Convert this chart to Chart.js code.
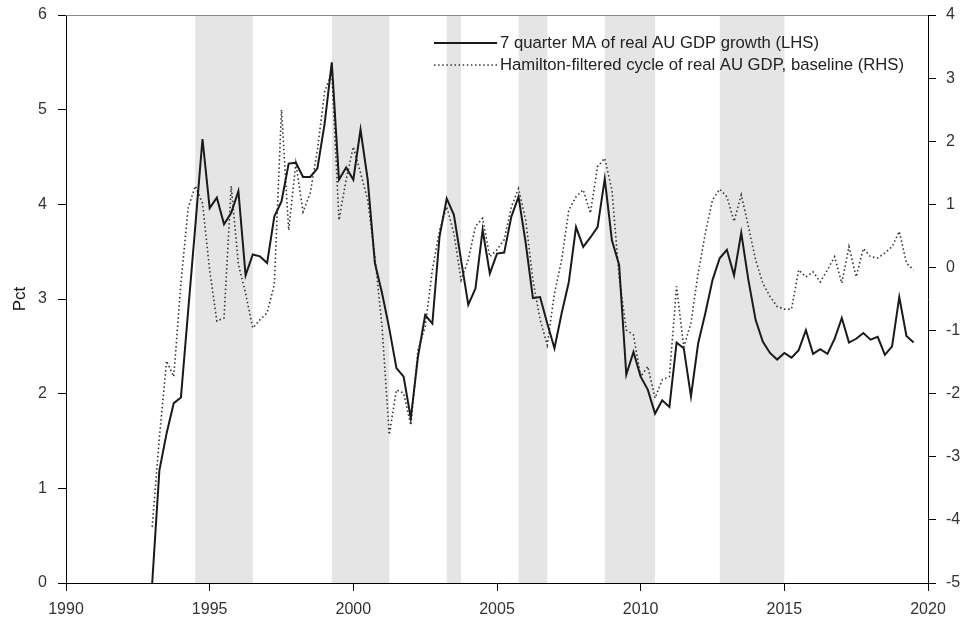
<!DOCTYPE html>
<html>
<head>
<meta charset="utf-8">
<script src="https://cdn.jsdelivr.net/npm/chart.js@4.4.1/dist/chart.umd.min.js"></script>
<style>
	html, body { margin: 0; padding: 0; background: #fff; }
	#wrap { width: 963px; height: 623px; }
</style>
</head>
<body>
<div id="wrap"><canvas id="gdpChart" width="963" height="623"></canvas></div>
<script>
// Quarterly series, first observation 1993 Q1
const startYear = 1993;

// 7 quarter moving average of real GDP growth, per cent (left axis)
const maGrowth = [
	0, 1.19, 1.58, 1.90, 1.96, 2.87, 3.77, 4.69,
	3.96, 4.07, 3.79, 3.91, 4.14, 3.25, 3.47, 3.45,
	3.38, 3.87, 4.03, 4.43, 4.44, 4.29, 4.29, 4.38,
	4.85, 5.50, 4.26, 4.39, 4.26, 4.79, 4.26, 3.38,
	3.06, 2.69, 2.27, 2.18, 1.74, 2.39, 2.83, 2.74,
	3.66, 4.06, 3.89, 3.41, 2.94, 3.11, 3.73, 3.27,
	3.48, 3.49, 3.87, 4.08, 3.59, 3.01, 3.02, 2.74,
	2.48, 2.85, 3.18, 3.76, 3.55, 3.65, 3.76, 4.27,
	3.62, 3.36, 2.20, 2.44, 2.18, 2.04, 1.79, 1.93,
	1.86, 2.54, 2.48, 1.97, 2.53, 2.85, 3.20, 3.43,
	3.52, 3.25, 3.70, 3.20, 2.78, 2.55, 2.43, 2.36,
	2.43, 2.38, 2.46, 2.67, 2.42, 2.47, 2.42, 2.58,
	2.80, 2.54, 2.58, 2.64, 2.57, 2.60, 2.41, 2.50,
	3.02, 2.61, 2.54
];

// Hamilton-filtered cycle of real GDP, baseline (right axis)
const hamiltonCycle = [
	-4.11, -2.70, -1.48, -1.73, -0.25, 0.94, 1.29, 1.02,
	-0.04, -0.85, -0.80, 1.29, 0.05, -0.41, -0.96, -0.83,
	-0.72, -0.27, 2.50, 0.59, 1.65, 0.88, 1.18, 1.86,
	2.78, 3.10, 0.75, 1.39, 1.91, 1.50, 1.07, 0.17,
	-0.94, -2.65, -1.94, -1.99, -2.50, -1.31, -0.94, -0.04,
	0.59, 0.96, 0.54, -0.20, 0.12, 0.65, 0.78, 0.17,
	0.28, 0.44, 0.96, 1.25, 0.75, -0.20, -0.83, -1.23,
	-0.41, 0.12, 0.91, 1.12, 1.23, 0.86, 1.60, 1.73,
	1.23, -0.15, -0.99, -1.07, -1.73, -1.57, -2.07, -1.78,
	-1.73, -0.30, -1.26, -0.88, -0.09, 0.54, 1.07, 1.24,
	1.12, 0.73, 1.15, 0.65, 0.12, -0.25, -0.46, -0.62,
	-0.66, -0.66, -0.04, -0.15, -0.07, -0.23, -0.04, 0.17,
	-0.25, 0.33, -0.15, 0.30, 0.17, 0.15, 0.23, 0.33,
	0.57, 0.07, -0.04
];

// Shaded periods [start, end] in decimal years
const shadeStarts = [1994.5, 1999.25, 2003.25, 2005.75, 2008.75, 2012.75];
const shadeEnds = [1996.5, 2001.25, 2003.75, 2006.75, 2010.5, 2015.0];

const xTicks = [1990, 1995, 2000, 2005, 2010, 2015, 2020];
const leftTicks = [0, 1, 2, 3, 4, 5, 6];
const rightTicks = [-5, -4, -3, -2, -1, 0, 1, 2, 3, 4];

const seriesLabels = [
	"7 quarter MA of real AU GDP growth (LHS)",
	"Hamilton-filtered cycle of real AU GDP, baseline (RHS)",
];

const toPoints = (vals) => vals.map((v, i) => ({ x: startYear + i / 4, y: v }));

const FONT = "'Liberation Sans', Arial, sans-serif";
const TICK_COLOR = "#333";

// pin the axis boxes so the plot area stays put
const fitY = (width) => (s) => {
	s.width = width;
	s.paddingTop = 0;
	s.paddingBottom = 0;
};

// grey bands behind the lines
const shadePlugin = {
	id: "shades",
	beforeDatasetsDraw(chart) {
		const { ctx, chartArea, scales } = chart;
		ctx.save();
		ctx.fillStyle = "#e5e5e5";
		shadeStarts.forEach((s, i) => {
			const x0 = scales.x.getPixelForValue(s);
			const x1 = scales.x.getPixelForValue(shadeEnds[i]);
			ctx.fillRect(x0, chartArea.top, x1 - x0, chartArea.bottom - chartArea.top);
		});
		ctx.restore();
	},
	afterDraw(chart) {
		const { ctx, chartArea } = chart;
		ctx.save();
		// top frame line
		ctx.strokeStyle = "#888";
		ctx.lineWidth = 1;
		ctx.beginPath();
		ctx.moveTo(chartArea.left, chartArea.top + 0.5);
		ctx.lineTo(chartArea.right, chartArea.top + 0.5);
		ctx.stroke();

		// legend
		const lx = 434, lw = 63, ly = [43, 65];
		chart.data.datasets.forEach((ds, i) => {
			ctx.strokeStyle = ds.borderColor;
			ctx.lineWidth = ds.borderWidth;
			ctx.setLineDash(ds.borderDash || []);
			ctx.beginPath();
			ctx.moveTo(lx, ly[i]);
			ctx.lineTo(lx + lw, ly[i]);
			ctx.stroke();
			ctx.setLineDash([]);
			ctx.fillStyle = "#222";
			ctx.font = "16.7px " + FONT;
			ctx.textBaseline = "middle";
			ctx.fillText(ds.label, lx + lw + 3, ly[i]);
		});
		ctx.restore();
	},
};

const ctx = document.getElementById("gdpChart").getContext("2d");
new Chart(ctx, {
	type: "line",
	data: {
		datasets: [
			{
				label: seriesLabels[0],
				data: toPoints(maGrowth),
				yAxisID: "y",
				borderColor: "#1a1a1a",
				borderWidth: 2,
				pointRadius: 0,
				tension: 0,
			},
			{
				label: seriesLabels[1],
				data: toPoints(hamiltonCycle),
				yAxisID: "y2",
				borderColor: "#333",
				borderWidth: 1.6,
				borderDash: [1.5, 2.6],
				pointRadius: 0,
				tension: 0,
			},
		],
	},
	options: {
		responsive: false,
		animation: false,
		layout: { padding: { top: 15, left: 0, right: 0, bottom: 0 } },
		plugins: {
			legend: { display: false },
			tooltip: { enabled: false },
		},
		scales: {
			x: {
				type: "linear",
				min: 1990,
				max: 2020,
				afterBuildTicks: (s) => { s.ticks = xTicks.map((v) => ({ value: v })); },
				afterFit: (s) => {
					s.height = 40;
					s.paddingLeft = 0;
					s.paddingRight = 0;
				},
				ticks: {
					color: TICK_COLOR,
					font: { family: FONT, size: 16 },
					padding: 9,
					maxRotation: 0,
					callback: (v) => String(v),
				},
				grid: { drawOnChartArea: false, drawTicks: true, tickLength: 8, color: "#000" },
				border: { display: true, color: "#000", width: 1 },
			},
			y: {
				position: "left",
				min: 0,
				max: 6,
				afterBuildTicks: (s) => { s.ticks = leftTicks.map((v) => ({ value: v })); },
				afterFit: fitY(66),
				ticks: {
					color: TICK_COLOR,
					font: { family: FONT, size: 16 },
					padding: 11,
				},
				title: {
					display: true,
					text: "Pct",
					color: "#111",
					font: { family: FONT, size: 17 },
					padding: { top: 10, bottom: 0 },
				},
				grid: { drawOnChartArea: false, drawTicks: true, tickLength: 8, color: "#000" },
				border: { display: true, color: "#000", width: 1 },
			},
			y2: {
				position: "right",
				min: -5,
				max: 4,
				afterBuildTicks: (s) => { s.ticks = rightTicks.map((v) => ({ value: v })); },
				afterFit: fitY(35),
				ticks: {
					color: TICK_COLOR,
					font: { family: FONT, size: 16 },
					padding: 10,
				},
				grid: { drawOnChartArea: false, drawTicks: true, tickLength: 8, color: "#000" },
				border: { display: true, color: "#000", width: 1 },
			},
		},
	},
	plugins: [shadePlugin],
});
</script>
</body>
</html>
